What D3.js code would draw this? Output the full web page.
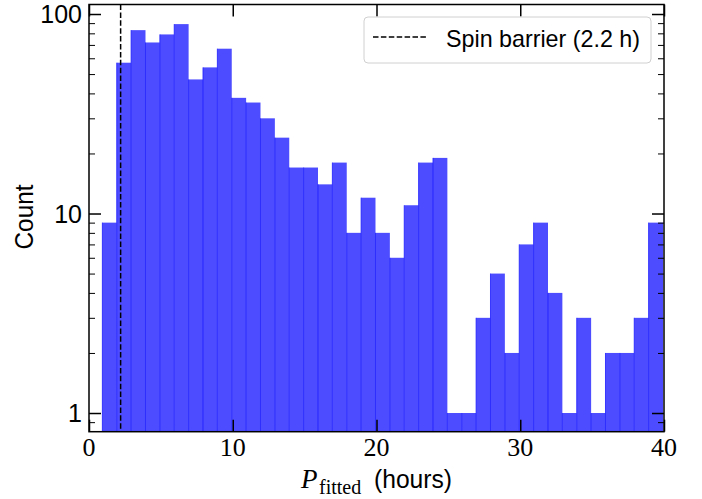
<!DOCTYPE html>
<html>
<head>
<meta charset="utf-8">
<script src="https://cdn.jsdelivr.net/npm/d3@7/dist/d3.min.js"></script>
<style>
  html, body { margin: 0; padding: 0; background: #fff; }
  svg { display: block; }
</style>
</head>
<body>
<svg id="chart" width="702" height="499"></svg>
<script>
// Histogram of fitted rotation periods (hours), log-scaled counts
const binStart = 0.93;
const binEnd = 39.93;
const counts = [9, 57, 83, 72, 79, 89, 47, 54, 67, 38, 36, 30, 24, 17, 17, 14, 18, 8, 12, 8,
                6, 11, 18, 19, 1, 1, 3, 5, 2, 7, 9, 4, 1, 3, 1, 2, 2, 3, 9];
const spinBarrier = 2.2;
const xTicks = [0, 10, 20, 30, 40];
const yTicks = [1, 10, 100];
const yMinorTicks = [0.9, 2, 3, 4, 5, 6, 7, 8, 9, 20, 30, 40, 50, 60, 70, 80, 90];
const legendLabel = "Spin barrier (2.2 h)";

const svg = d3.select("#chart");
const plot = { left: 89, right: 664, top: 4.5, bottom: 431.7 };

const x = d3.scaleLinear().domain([0, 40]).range([plot.left, plot.right]);
const y = d3.scaleLog().domain([0.806, 111.6]).range([plot.bottom, plot.top]);

const binWidth = (binEnd - binStart) / counts.length;
const bins = counts.map((c, i) => ({ x0: binStart + i * binWidth, x1: binStart + (i + 1) * binWidth, count: c }));

const serif = "'Liberation Serif', 'DejaVu Serif', serif";
const sans = "'Liberation Sans', 'DejaVu Sans', sans-serif";

// bars
const barG = svg.append("g");
barG.selectAll("rect").data(bins).join("rect")
  .attr("x", d => x(d.x0))
  .attr("y", d => y(d.count))
  .attr("width", d => x(d.x1) - x(d.x0))
  .attr("height", d => plot.bottom - y(d.count))
  .attr("fill", "#4d4dff");
// thin bar edges
barG.selectAll("line.edge").data(bins).join("line")
  .attr("class", "edge")
  .attr("x1", d => x(d.x0)).attr("x2", d => x(d.x0))
  .attr("y1", d => y(d.count)).attr("y2", plot.bottom)
  .attr("stroke", "#1a1aff").attr("stroke-width", 0.8);

// spin barrier
svg.append("line")
  .attr("x1", x(spinBarrier)).attr("x2", x(spinBarrier))
  .attr("y1", plot.top).attr("y2", plot.bottom)
  .attr("stroke", "#000").attr("stroke-width", 1.5)
  .attr("stroke-dasharray", "5.5,2.4");

// axes (ticks pointing inward on all four sides)
const bottomAxis = d3.axisTop(x).tickValues(xTicks).tickSize(12).tickFormat("");
const topAxis = d3.axisBottom(x).tickValues(xTicks).tickSize(12).tickFormat("");
const leftAxis = d3.axisRight(y).tickValues(yTicks).tickSize(12).tickFormat("");
const rightAxis = d3.axisLeft(y).tickValues(yTicks).tickSize(12).tickFormat("");
const leftMinor = d3.axisRight(y).tickValues(yMinorTicks).tickSize(6).tickFormat("");
const rightMinor = d3.axisLeft(y).tickValues(yMinorTicks).tickSize(6).tickFormat("");

function styleAxis(g, w) {
  g.select(".domain").remove();
  g.selectAll(".tick line").attr("stroke", "#000").attr("stroke-width", w);
}
svg.append("g").attr("transform", `translate(0,${plot.bottom})`).call(bottomAxis).call(g => styleAxis(g, 1.5));
svg.append("g").attr("transform", `translate(0,${plot.top})`).call(topAxis).call(g => styleAxis(g, 1.5));
svg.append("g").attr("transform", `translate(${plot.left},0)`).call(leftAxis).call(g => styleAxis(g, 1.5));
svg.append("g").attr("transform", `translate(${plot.right},0)`).call(rightAxis).call(g => styleAxis(g, 1.5));
svg.append("g").attr("transform", `translate(${plot.left},0)`).call(leftMinor).call(g => styleAxis(g, 1));
svg.append("g").attr("transform", `translate(${plot.right},0)`).call(rightMinor).call(g => styleAxis(g, 1));

// frame
svg.append("rect")
  .attr("x", plot.left).attr("y", plot.top)
  .attr("width", plot.right - plot.left).attr("height", plot.bottom - plot.top)
  .attr("fill", "none").attr("stroke", "#000").attr("stroke-width", 1.5);

// tick labels
svg.append("g").selectAll("text").data(xTicks).join("text")
  .attr("x", d => x(d)).attr("y", 456)
  .attr("text-anchor", "middle")
  .attr("font-family", serif).attr("font-size", 26)
  .attr("fill", "#000")
  .text(d => d);

svg.append("g").selectAll("text").data(yTicks).join("text")
  .attr("x", 82).attr("y", d => y(d) + 9)
  .attr("text-anchor", "end")
  .attr("font-family", sans).attr("font-size", 25)
  .attr("fill", "#000")
  .text(d => d);

// axis titles
svg.append("text")
  .attr("transform", "translate(33,217) rotate(-90)")
  .attr("text-anchor", "middle")
  .attr("font-family", sans).attr("font-size", 25)
  .attr("textLength", 65).attr("lengthAdjust", "spacingAndGlyphs")
  .attr("fill", "#000")
  .text("Count");

svg.append("text").attr("x", 301).attr("y", 488)
  .attr("font-family", serif).attr("font-size", 27).attr("font-style", "italic")
  .attr("fill", "#000").text("P");
svg.append("text").attr("x", 319).attr("y", 494)
  .attr("font-family", serif).attr("font-size", 20)
  .attr("fill", "#000").text("fitted");
svg.append("text").attr("x", 374).attr("y", 488)
  .attr("font-family", sans).attr("font-size", 25)
  .attr("textLength", 78).attr("lengthAdjust", "spacingAndGlyphs")
  .attr("fill", "#000").text("(hours)");

// legend
const lg = svg.append("g");
lg.append("rect")
  .attr("x", 364).attr("y", 17).attr("width", 287).attr("height", 46)
  .attr("rx", 4).attr("ry", 4)
  .attr("fill", "#fff").attr("fill-opacity", 0.8)
  .attr("stroke", "#d0d0d0").attr("stroke-width", 1);
lg.append("line")
  .attr("x1", 373).attr("x2", 427).attr("y1", 37).attr("y2", 37)
  .attr("stroke", "#000").attr("stroke-width", 1.5)
  .attr("stroke-dasharray", "5.5,2.4");
lg.append("text")
  .attr("x", 446).attr("y", 47)
  .attr("font-family", sans).attr("font-size", 24)
  .attr("textLength", 194).attr("lengthAdjust", "spacingAndGlyphs")
  .attr("fill", "#000")
  .text(legendLabel);
</script>
</body>
</html>
